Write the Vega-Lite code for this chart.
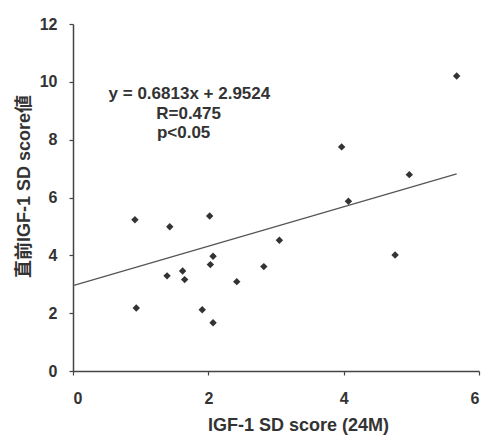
{
  "$schema": "https://vega.github.io/schema/vega-lite/v6.json",
  "width": 406,
  "height": 347,
  "autosize": {"type": "none"},
  "padding": {"left": 73, "top": 24, "right": 7, "bottom": 67},
  "background": "white",
  "config": {
    "view": {"stroke": null},
    "font": "Liberation Sans, Noto Sans CJK SC",
    "axis": {
      "grid": false,
      "domainColor": "#444",
      "domainWidth": 1.5,
      "tickColor": "#444",
      "tickWidth": 1.2,
      "tickSize": 4,
      "labelFont": "Liberation Sans",
      "labelFontSize": 16,
      "labelFontWeight": "bold",
      "labelColor": "#333",
      "titleFont": "Liberation Sans, Noto Sans CJK SC",
      "titleFontSize": 18,
      "titleFontWeight": "bold",
      "titleColor": "#333"
    }
  },
  "datasets": {
    "points": [
      {"x": 0.915, "y": 5.23},
      {"x": 0.935, "y": 2.18},
      {"x": 1.43, "y": 4.99},
      {"x": 1.39, "y": 3.29},
      {"x": 1.62, "y": 3.46},
      {"x": 1.65, "y": 3.16},
      {"x": 2.02, "y": 5.36},
      {"x": 2.03, "y": 3.68},
      {"x": 2.07, "y": 3.97},
      {"x": 1.91, "y": 2.12},
      {"x": 2.07, "y": 1.67},
      {"x": 2.42, "y": 3.09},
      {"x": 2.82, "y": 3.61},
      {"x": 3.05, "y": 4.52},
      {"x": 3.97, "y": 7.75},
      {"x": 4.07, "y": 5.87},
      {"x": 4.76, "y": 4.01},
      {"x": 4.97, "y": 6.79},
      {"x": 5.67, "y": 10.2}
    ],
    "fit": [
      {"x": 0, "y": 2.9524},
      {"x": 5.67, "y": 6.815}
    ],
    "notes": [
      {"x": 1.72, "y": 9.57, "label": "y = 0.6813x + 2.9524", "align": "center"},
      {"x": 1.23, "y": 8.88, "label": "R=0.475", "align": "left"},
      {"x": 1.24, "y": 8.22, "label": "p<0.05", "align": "left"}
    ]
  },
  "layer": [
    {
      "data": {"name": "fit"},
      "mark": {"type": "line", "color": "#555", "strokeWidth": 1.2},
      "encoding": {
        "x": {
          "field": "x", "type": "quantitative",
          "scale": {"domain": [0, 6], "nice": false},
          "axis": {"values": [0, 2, 4, 6], "format": "d", "title": "IGF-1 SD score (24M)", "labelPadding": 15, "titlePadding": 10, "titleX": 225}
        },
        "y": {
          "field": "y", "type": "quantitative",
          "scale": {"domain": [0, 12], "nice": false},
          "axis": {"values": [0, 2, 4, 6, 8, 10, 12], "format": "d", "title": "直前IGF-1 SD score値", "labelPadding": 12, "titlePadding": 6, "titleY": 162}
        }
      }
    },
    {
      "data": {"name": "points"},
      "mark": {"type": "point", "shape": "diamond", "filled": true, "color": "#333", "size": 55, "opacity": 1},
      "encoding": {
        "x": {"field": "x", "type": "quantitative"},
        "y": {"field": "y", "type": "quantitative"}
      }
    },
    {
      "data": {"name": "notes"},
      "transform": [{"filter": "datum.align == 'center'"}],
      "mark": {"type": "text", "fontSize": 17, "fontWeight": "bold", "color": "#333", "align": "center", "baseline": "middle", "font": "Liberation Sans"},
      "encoding": {
        "x": {"field": "x", "type": "quantitative"},
        "y": {"field": "y", "type": "quantitative"},
        "text": {"field": "label"}
      }
    },
    {
      "data": {"name": "notes"},
      "transform": [{"filter": "datum.align == 'left'"}],
      "mark": {"type": "text", "fontSize": 17, "fontWeight": "bold", "color": "#333", "align": "left", "baseline": "middle", "font": "Liberation Sans"},
      "encoding": {
        "x": {"field": "x", "type": "quantitative"},
        "y": {"field": "y", "type": "quantitative"},
        "text": {"field": "label"}
      }
    }
  ]
}
